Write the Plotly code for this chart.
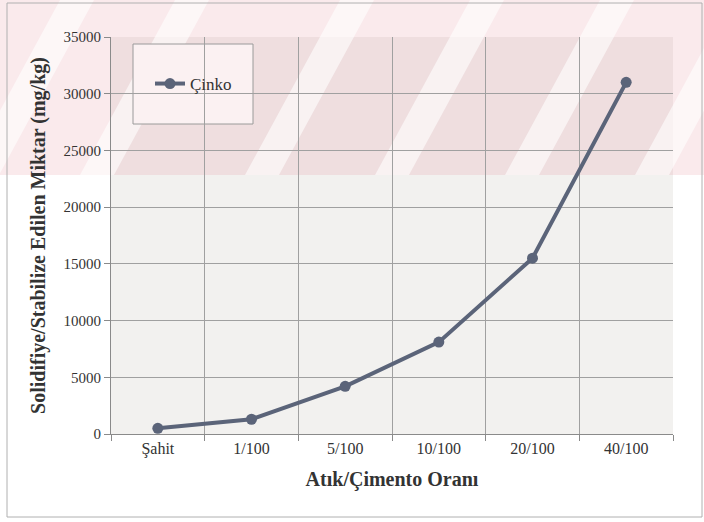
import plotly.graph_objects as go

categories = ["Şahit", "1/100", "5/100", "10/100", "20/100", "40/100"]
cinko = [500, 1300, 4200, 8100, 15500, 31000]
y_ticks = [0, 5000, 10000, 15000, 20000, 25000, 30000, 35000]

W, H = 704, 522
L, R, T, B = 111, 31, 37, 88
PW, PH = W - L - R, H - T - B


def px(x):
    return (x - L) / PW


def py(y):
    return (H - B - y) / PH


fig = go.Figure()
fig.add_trace(go.Scatter(
    x=categories, y=cinko, mode="lines+markers", name="Çinko",
    line=dict(color="#5b6479", width=4),
    marker=dict(color="#5b6479", size=11),
))

shapes = []
# scan watermark: pale pink band with white diagonal stripes across the top
shapes.append(dict(type="rect", xref="paper", yref="paper", x0=px(0), x1=px(W), y0=py(175), y1=py(0),
                   fillcolor="rgba(232,150,160,0.2)", line=dict(width=0), layer="below"))
for a in [60, 175, 340, 470, 600, 730, 860]:
    w = 34
    d = 95
    path = (f"M {px(a):.4f},{py(0):.4f} L {px(a+w):.4f},{py(0):.4f} "
            f"L {px(a+w-d):.4f},{py(175):.4f} L {px(a-d):.4f},{py(175):.4f} Z")
    shapes.append(dict(type="path", xref="paper", yref="paper", path=path,
                       fillcolor="rgba(255,255,255,0.6)", line=dict(width=0), layer="below"))
# legend box
shapes.append(dict(type="rect", xref="paper", yref="paper", x0=px(133), x1=px(253), y0=py(124), y1=py(44),
                   fillcolor="#fbf1f2", line=dict(color="#9a9a9a", width=1), layer="between"))
# chart frame
shapes.append(dict(type="rect", xref="paper", yref="paper", x0=px(7), x1=px(702), y0=py(517), y1=py(3),
                   line=dict(color="#b0b0b0", width=1), layer="above"))

fig.update_layout(
    width=W, height=H,
    margin=dict(l=L, r=R, t=T, b=B),
    paper_bgcolor="white",
    plot_bgcolor="#f2f1ef",
    font=dict(family="Liberation Serif, Times New Roman, serif", color="#333333", size=16),
    showlegend=True,
    legend=dict(x=px(150), y=py(84), xanchor="left", yanchor="middle",
                bgcolor="rgba(0,0,0,0)", borderwidth=0, font=dict(size=17)),
    shapes=shapes,
    xaxis=dict(
        type="category", tickson="boundaries", showgrid=True, gridcolor="#a0a0a0",
        gridwidth=1, ticks="outside", ticklen=6, tickcolor="#8a8a8a",
        showline=True, linecolor="#8a8a8a", tickfont=dict(size=16),
        title=dict(text="<b>Atık/Çimento Oranı</b>", font=dict(size=20), standoff=14),
        range=[-0.5, 5.5],
    ),
    yaxis=dict(
        range=[0, 35000], tickvals=y_ticks, tickformat="d", showgrid=True, gridcolor="#a0a0a0",
        ticks="outside", ticklen=6, tickcolor="#8a8a8a", showline=True,
        linecolor="#8a8a8a", tickfont=dict(size=15),
        title=dict(text="<b>Solidifiye/Stabilize Edilen Miktar (mg/kg)</b>", font=dict(size=20), standoff=12),
        zeroline=False,
    ),
)
fig.write_html("out.html")
